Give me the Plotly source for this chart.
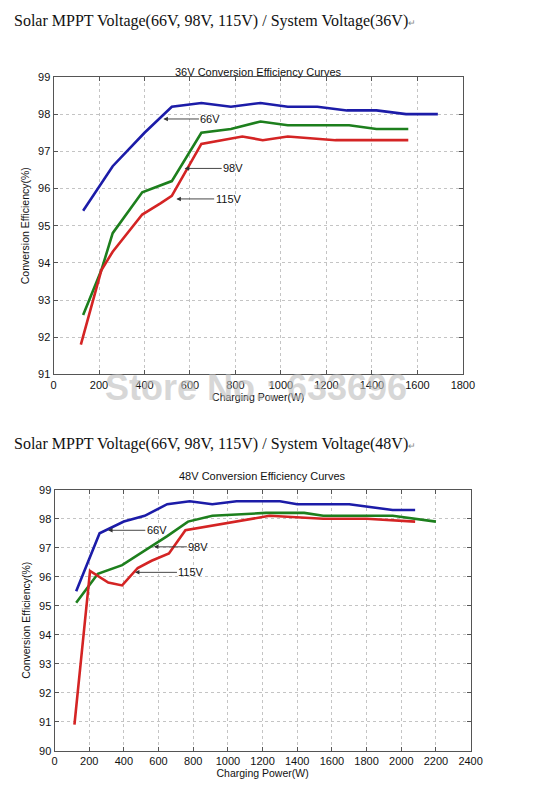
import plotly.graph_objects as go

# === PODACI: 36V sustav ===
p36_66 = [130, 260, 400, 520, 650, 780, 910, 1030, 1160, 1290, 1420, 1550, 1690]
e36_66 = [95.4, 96.6, 97.5, 98.2, 98.3, 98.2, 98.3, 98.2, 98.2, 98.1, 98.1, 98.0, 98.0]
p36_98 = [130, 210, 260, 390, 520, 650, 780, 910, 1030, 1300, 1420, 1560]
e36_98 = [92.6, 93.8, 94.8, 95.9, 96.2, 97.5, 97.6, 97.8, 97.7, 97.7, 97.6, 97.6]
p36_115 = [120, 210, 260, 390, 470, 520, 650, 830, 920, 1030, 1240, 1560]
e36_115 = [91.8, 93.8, 94.3, 95.3, 95.6, 95.8, 97.2, 97.4, 97.3, 97.4, 97.3, 97.3]

# === PODACI: 48V sustav ===
p48_66 = [125, 260, 400, 520, 650, 780, 910, 1050, 1300, 1400, 1700, 1950, 2080]
e48_66 = [95.5, 97.5, 97.9, 98.1, 98.5, 98.6, 98.5, 98.6, 98.6, 98.5, 98.5, 98.3, 98.3]
p48_98 = [125, 250, 390, 650, 770, 910, 1220, 1440, 1550, 1950, 2200]
e48_98 = [95.1, 96.1, 96.4, 97.4, 97.9, 98.1, 98.2, 98.2, 98.1, 98.1, 97.9]
p48_115 = [115, 205, 310, 390, 480, 560, 660, 755, 1240, 1550, 1800, 2080]
e48_115 = [90.9, 96.2, 95.8, 95.7, 96.3, 96.55, 96.8, 97.6, 98.1, 98.0, 98.0, 97.9]

labels = ["66V", "98V", "115V"]
colors = ["#1c1ca8", "#1d7f1d", "#d42424"]

ticks36 = list(range(0, 1801, 200))
ticks48 = list(range(0, 2401, 200))

fig = go.Figure()

series = [
    (p36_66, e36_66, "x", "y"), (p36_98, e36_98, "x", "y"), (p36_115, e36_115, "x", "y"),
    (p48_66, e48_66, "x2", "y2"), (p48_98, e48_98, "x2", "y2"), (p48_115, e48_115, "x2", "y2"),
]
for i, (px_, py_, xa, ya) in enumerate(series):
    fig.add_trace(go.Scatter(x=px_, y=py_, mode="lines", xaxis=xa, yaxis=ya,
                             name=labels[i % 3],
                             line=dict(color=colors[i % 3], width=2.6),
                             showlegend=False))

axis_style = dict(showline=True, linecolor="#555", linewidth=1, mirror="ticks",
                  ticks="inside", ticklen=4, tickcolor="#555",
                  showgrid=True, gridcolor="#c4c4c4", griddash="dot", gridwidth=1,
                  zeroline=False, tickfont=dict(family="Liberation Sans, Arial", size=11, color="#111"))
title_font = dict(family="Liberation Sans, Arial", size=10.5, color="#111")

fig.update_layout(
    width=539, height=803,
    margin=dict(l=0, r=0, t=0, b=0),
    paper_bgcolor="white", plot_bgcolor="white",
    xaxis=dict(domain=[0.0965, 0.8776], range=[0, 1800], tickvals=ticks36,
               anchor="y", title=dict(text="Charging Power(W)", font=title_font, standoff=2),
               **axis_style),
    yaxis=dict(domain=[0.5342, 0.9103], range=[91, 99], dtick=1, anchor="x",
               title=dict(text="Conversion Efficiency(%)", font=title_font, standoff=6),
               **axis_style),
    xaxis2=dict(domain=[0.0983, 0.8924], range=[0, 2400], tickvals=ticks48,
                anchor="y2", title=dict(text="Charging Power(W)", font=title_font, standoff=2),
                **axis_style),
    yaxis2=dict(domain=[0.0585, 0.3885], range=[90, 99], dtick=1, anchor="x2",
                title=dict(text="Conversion Efficiency(%)", font=title_font, standoff=6),
                **axis_style),
)

# naslovi
heading_font = dict(family="Liberation Serif, Times New Roman", size=16, color="#111")
fig.add_annotation(text="Solar MPPT Voltage(66V, 98V, 115V) / System Voltage(36V)<span style='font-size:9px;color:#888'>↵</span>",
                   xref="paper", yref="paper", x=0.017, y=0.981, xanchor="left",
                   yanchor="middle", showarrow=False, font=heading_font)
fig.add_annotation(text="Solar MPPT Voltage(66V, 98V, 115V) / System Voltage(48V)<span style='font-size:9px;color:#888'>↵</span>",
                   xref="paper", yref="paper", x=0.017, y=0.4458, xanchor="left",
                   yanchor="middle", showarrow=False, font=heading_font)
chart_title_font = dict(family="Liberation Sans, Arial", size=11, color="#111")
fig.add_annotation(text="36V Conversion Efficiency Curves", xref="paper", yref="paper",
                   x=0.487, y=0.9265, showarrow=False, font=chart_title_font)
fig.add_annotation(text="48V Conversion Efficiency Curves", xref="paper", yref="paper",
                   x=0.495, y=0.406, showarrow=False, font=chart_title_font)

# strelice s oznakama
arrow_font = dict(family="Liberation Sans, Arial", size=11, color="#111")
arrows = [
    ("x", "y", 483, 97.87, 690, 97.87, "66V"),
    ("x", "y", 576, 96.54, 790, 96.54, "98V"),
    ("x", "y", 540, 95.72, 770, 95.72, "115V"),
    ("x2", "y2", 309, 97.6, 590, 97.6, "66V"),
    ("x2", "y2", 573, 97.03, 830, 97.03, "98V"),
    ("x2", "y2", 464, 96.15, 790, 96.15, "115V"),
]
for xr, yr, hx, hy, tx, ty, t in arrows:
    fig.add_annotation(x=hx, y=hy, xref=xr, yref=yr, ax=tx, ay=ty, axref=xr, ayref=yr,
                       text=t, showarrow=True, arrowhead=2, arrowsize=1, arrowwidth=0.9,
                       arrowcolor="#333", font=arrow_font, standoff=0)

# vodeni žig
fig.add_annotation(text="<b>Store No.: 633696</b>", xref="paper", yref="paper",
                   x=0.483, y=1 - 387 / 803, showarrow=False, opacity=0.6,
                   font=dict(family="Liberation Sans, Arial", size=36, color="#bdbdbd"))

# stranica bez margina i skrolanja, da graf stane tocno u prozor
css_fix = (
    "for (const el of [document.documentElement, document.body]) {"
    "el.style.margin='0'; el.style.padding='0'; el.style.overflow='hidden'; el.style.height='803px';}"
)
fig.write_html("out.html", config={"displayModeBar": False}, post_script=css_fix)
